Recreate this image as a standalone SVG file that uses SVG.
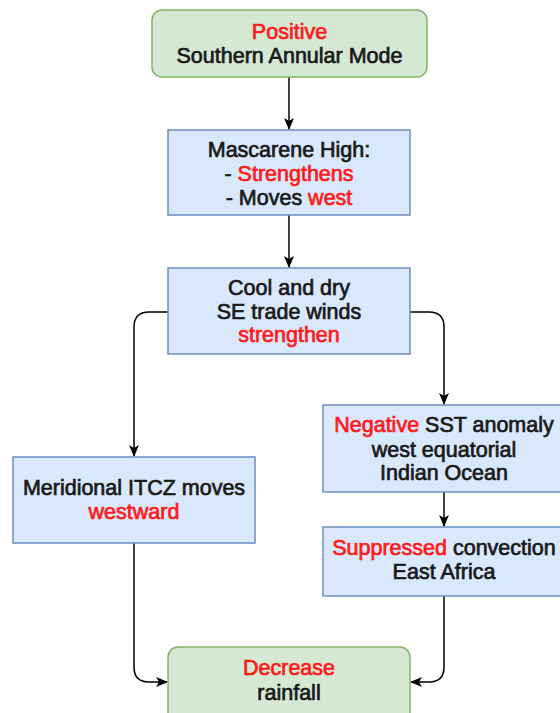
<svg xmlns="http://www.w3.org/2000/svg" width="560" height="713" viewBox="0 0 560 713">
<defs>
<style>
.g{fill:#d5e8d4;stroke:#82b366;stroke-width:1.5}
.b{fill:#dae8fc;stroke:#6c8ebf;stroke-width:1.5}
text{font-family:"Liberation Sans",Arial,sans-serif;font-size:21.5px;fill:#1a1a1a;stroke:#1a1a1a;stroke-width:0.7;text-anchor:middle}
.r{fill:#ff1a1a;stroke:#ff1a1a}
.c{fill:none;stroke:#000;stroke-width:1.5}
</style>
<marker id="ah" viewBox="0 0 12 12" refX="11" refY="6" markerWidth="12" markerHeight="12" markerUnits="userSpaceOnUse" orient="auto">
<path d="M0,1 L12,6 L0,11 L3,6 Z" fill="#000"/>
</marker>
</defs>
<g id="connectors">
<path class="c" d="M289,77 V129" marker-end="url(#ah)"/>
<path class="c" d="M289,215 V267" marker-end="url(#ah)"/>
<path class="c" d="M168,312 H149 Q134,312 134,327 V456" marker-end="url(#ah)"/>
<path class="c" d="M410,312 H429 Q444,312 444,327 V404" marker-end="url(#ah)"/>
<path class="c" d="M444,492 V526" marker-end="url(#ah)"/>
<path class="c" d="M134,543 V667 Q134,682 149,682 H167" marker-end="url(#ah)"/>
<path class="c" d="M444,596 V667 Q444,682 429,682 H411" marker-end="url(#ah)"/>
</g>
<g id="sam">
<rect class="g" x="152" y="10" width="275" height="67" rx="10"/>
<text x="289.5" y="39"><tspan class="r">Positive</tspan></text>
<text x="289.5" y="63">Southern Annular Mode</text>
</g>
<g id="mascarene">
<rect class="b" x="168" y="130" width="242" height="85"/>
<text x="289" y="157">Mascarene High:</text>
<text x="289" y="181">- <tspan class="r">Strengthens</tspan></text>
<text x="289" y="205">- Moves <tspan class="r">west</tspan></text>
</g>
<g id="trade">
<rect class="b" x="168" y="268" width="242" height="86"/>
<text x="289" y="295">Cool and dry</text>
<text x="289" y="318.5">SE trade winds</text>
<text x="289" y="342" class="r">strengthen</text>
</g>
<g id="itcz">
<rect class="b" x="13" y="457" width="242" height="86"/>
<text x="134" y="495">Meridional ITCZ moves</text>
<text x="134" y="518.5" class="r">westward</text>
</g>
<g id="sst">
<rect class="b" x="323" y="405" width="242" height="87"/>
<text x="444" y="432"><tspan class="r">Negative</tspan> SST anomaly</text>
<text x="444" y="456.5">west equatorial</text>
<text x="444" y="480">Indian Ocean</text>
</g>
<g id="convection">
<rect class="b" x="323" y="527" width="242" height="69"/>
<text x="444" y="555"><tspan class="r">Suppressed</tspan> convection</text>
<text x="444" y="578.5">East Africa</text>
</g>
<g id="rainfall">
<rect class="g" x="168" y="647" width="242" height="80" rx="10"/>
<text x="289" y="675" class="r">Decrease</text>
<text x="289" y="699.5">rainfall</text>
</g>
</svg>
